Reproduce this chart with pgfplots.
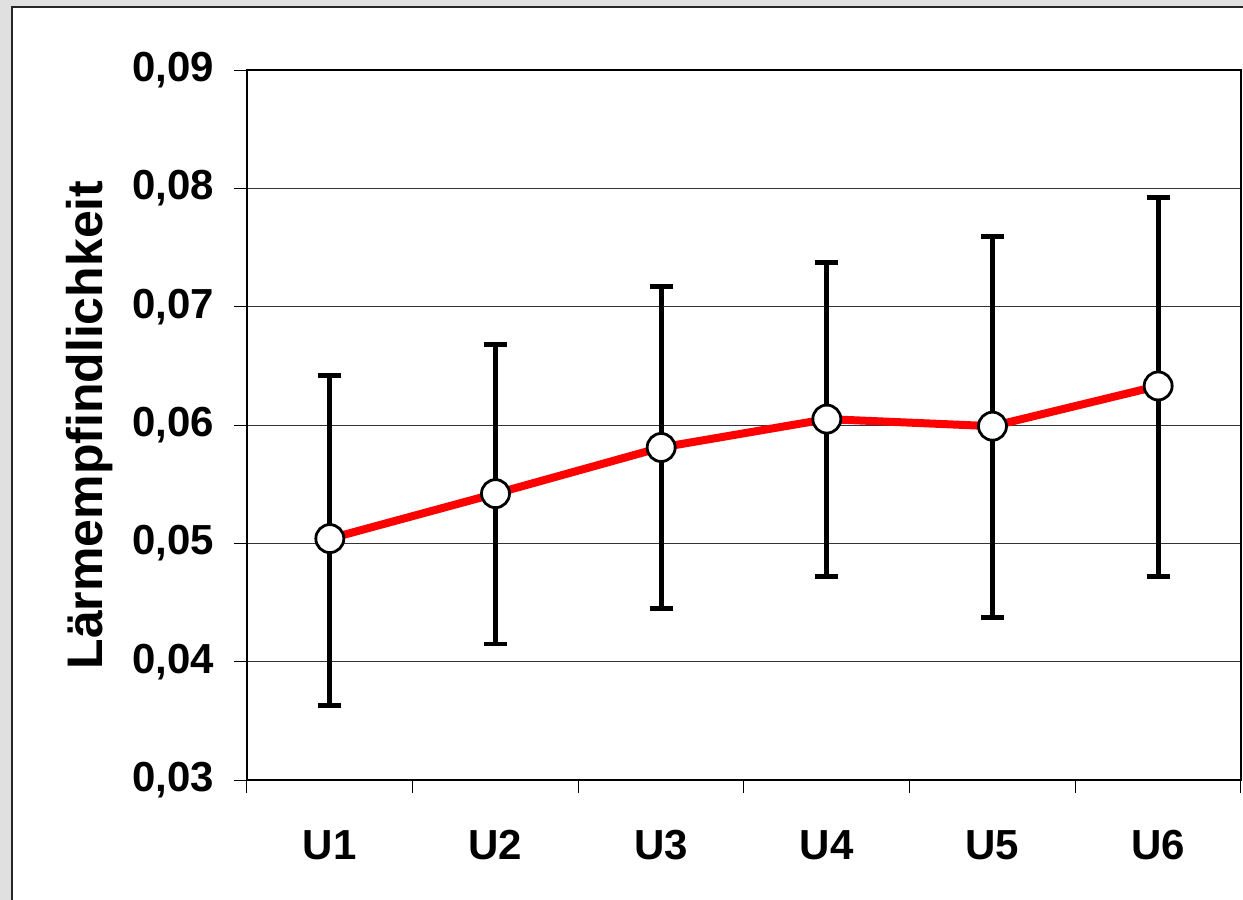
\documentclass[border=0pt]{standalone}
\usepackage{pgfplots}
\pgfplotsset{compat=1.18}
\usepackage{fontspec}
\setmainfont{Liberation Sans}
\begin{document}
\begin{tikzpicture}
\useasboundingbox (-123.5pt,-60pt) rectangle (498pt,390pt);
\fill[black!12] (-123.5pt,-60pt) rectangle (498pt,390pt);
\draw[fill=white, draw=black!85, line width=0.8pt] (-117.5pt,-80pt) rectangle (520pt,386.5pt);
\begin{axis}[
  width=497pt, height=355pt, scale only axis,
  xmin=-0.5, xmax=5.5, ymin=0.03, ymax=0.09,
  xtick={0,1,2,3,4,5}, xticklabels={U1,U2,U3,U4,U5,U6},
  major x tick style={draw=none},
  minor xtick={-0.5,0.5,1.5,2.5,3.5,4.5,5.5},
  ytick={0.03,0.04,0.05,0.06,0.07,0.08,0.09},
  scaled y ticks=false,
  ymajorgrids, grid style={black!80, line width=0.5pt},
  tick align=outside, tick pos=left,
  major tick length=6.5pt, minor tick length=6.5pt,
  every tick/.style={black, line width=0.5pt},
  axis line style={line width=1pt},
  yticklabel style={xshift=-6.5pt, /pgf/number format/fixed, /pgf/number format/fixed zerofill, /pgf/number format/precision=2, /pgf/number format/use comma, /pgf/number format/assume math mode=true},
  ticklabel style={font=\fontsize{21}{25}\selectfont\bfseries},
  xticklabel style={anchor=center, yshift=-26pt},
  ylabel={Lärmempfindlichkeit},
  every axis y label/.style={at={(axis description cs:-0.158,0.5)}, rotate=90, anchor=center, font=\fontsize{25}{28}\selectfont\bfseries},
]
\addplot[red, line width=4pt, mark=*, mark size=7pt,
  mark options={fill=white, draw=black, line width=1.4pt},
  error bars/.cd, y dir=both, y explicit,
  error bar style={line width=2.4pt, black},
  error mark options={rotate=90, mark size=5.7pt, line width=2.4pt, black}]
  table[x=x, y=y, y error plus=ep, y error minus=em] {
x y ep em
0 0.0504 0.0138 0.0141
1 0.0542 0.0126 0.0127
2 0.0581 0.0136 0.0136
3 0.0605 0.0132 0.0133
4 0.0599 0.0160 0.0162
5 0.0633 0.0159 0.0161
};
\end{axis}
\end{tikzpicture}
\end{document}
